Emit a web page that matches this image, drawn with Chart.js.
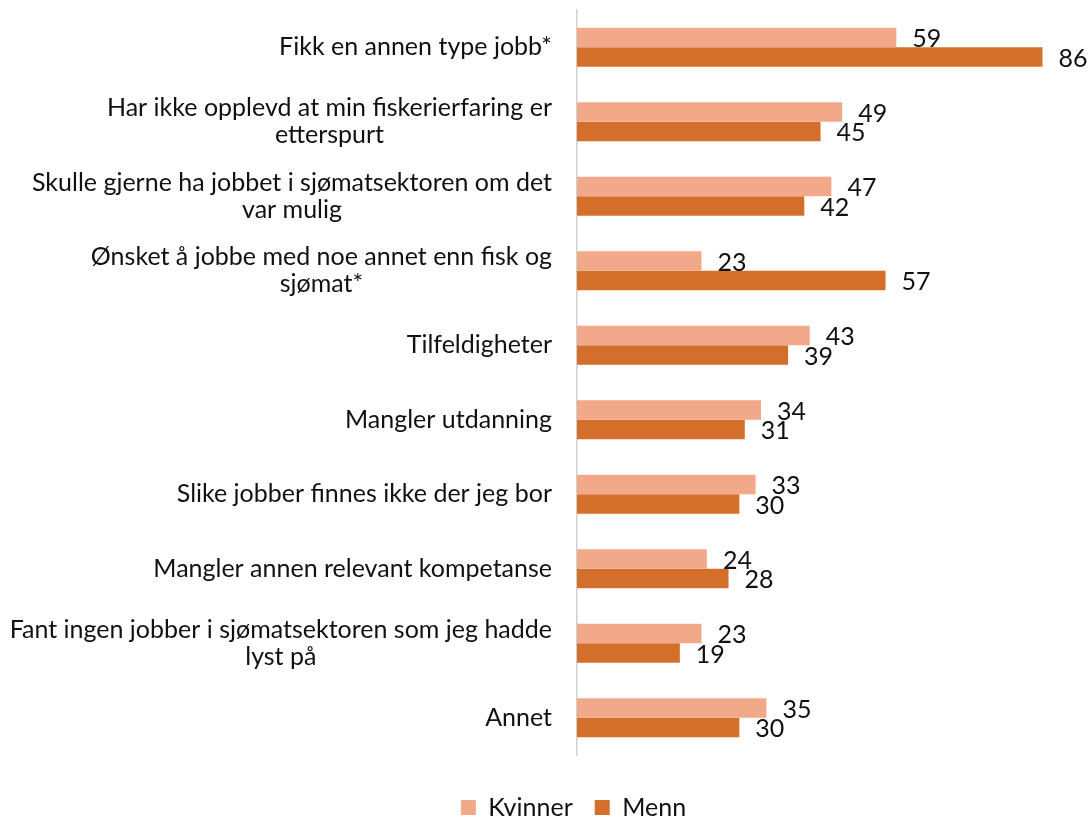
<!DOCTYPE html>
<html lang="no">
<head>
  <meta charset="UTF-8">
  <title>Årsaker – Kvinner og Menn</title>
  <script src="https://cdn.jsdelivr.net/npm/chart.js"></script>
  <style>
    html, body { margin: 0; padding: 0; background: #fff; }
    #wrap { width: 1089px; height: 821px; }
  </style>
</head>
<body>
  <div id="wrap"><canvas id="graf"></canvas></div>

  <script>
    /* ---------- Data ---------- */
    const kategorier = [
      ['Fikk en annen type jobb*'],
      ['Har ikke opplevd at min fiskerierfaring er', 'etterspurt'],
      ['Skulle gjerne ha jobbet i sjømatsektoren om det', 'var mulig'],
      ['Ønsket å jobbe med noe annet enn fisk og', 'sjømat*'],
      ['Tilfeldigheter'],
      ['Mangler utdanning'],
      ['Slike jobber finnes ikke der jeg bor'],
      ['Mangler annen relevant kompetanse'],
      ['Fant ingen jobber i sjømatsektoren som jeg hadde', 'lyst på'],
      ['Annet']
    ];
    const kvinner = [59, 49, 47, 23, 43, 34, 33, 24, 23, 35];
    const menn    = [86, 45, 42, 57, 39, 31, 30, 28, 19, 30];

    /* ---------- Stil ---------- */
    const FONT_FAMILY = 'Lato, "Open Sans", sans-serif';
    const FONT_SIZE = 25;
    const TEXT = '#111';

    /* kategorinavn (linjer sentrert, blokk høyrejustert) + verdier */
    const tekster = {
      id: 'tekster',
      afterDatasetsDraw(chart) {
        const ctx = chart.ctx;
        const y = chart.scales.y;
        ctx.save();
        ctx.font = `${FONT_SIZE}px ${FONT_FAMILY}`;
        ctx.fillStyle = TEXT;
        ctx.textBaseline = 'middle';

        ctx.textAlign = 'center';
        kategorier.forEach((linjer, i) => {
          const cy = y.getPixelForValue(i);
          const w = Math.max(...linjer.map(l => ctx.measureText(l).width));
          const cx = y.right - 25 - w / 2;
          linjer.forEach((l, j) =>
            ctx.fillText(l, cx, cy + (j - (linjer.length - 1) / 2) * 27));
        });

        ctx.textAlign = 'left';
        chart.data.datasets.forEach((ds, d) => {
          chart.getDatasetMeta(d).data.forEach((bar, i) =>
            ctx.fillText(ds.data[i], bar.x + 16, bar.y + 1.5));
        });
        ctx.restore();
      }
    };

    new Chart(document.getElementById('graf'), {
      type: 'bar',
      data: {
        labels: kategorier,
        datasets: [
          { label: 'Kvinner', data: kvinner, backgroundColor: '#F2A98A',
            categoryPercentage: 0.523, barPercentage: 1 },
          { label: 'Menn', data: menn, backgroundColor: '#D36F2B',
            categoryPercentage: 0.523, barPercentage: 1 }
        ]
      },
      options: {
        indexAxis: 'y',
        responsive: true,
        maintainAspectRatio: false,
        animation: false,
        layout: { padding: { left: 58, right: 0, top: 10, bottom: 0 } },
        scales: {
          x: {
            min: 0, max: 94.6,
            ticks: { display: false },
            grid: { display: false },
            border: { display: false },
            afterFit: s => { s.height = 18; }
          },
          y: {
            ticks: { display: false },
            grid: { display: false },
            border: { display: true, color: '#d0d0d0', width: 1.5 },
            afterFit: s => { s.width = 519; }
          }
        },
        plugins: {
          legend: {
            position: 'bottom',
            maxHeight: 48,
            labels: {
              boxWidth: 15, boxHeight: 15, padding: 22,
              color: TEXT,
              font: { family: FONT_FAMILY, size: FONT_SIZE }
            }
          },
          tooltip: { enabled: false }
        }
      },
      plugins: [tekster]
    });
  </script>
</body>
</html>
